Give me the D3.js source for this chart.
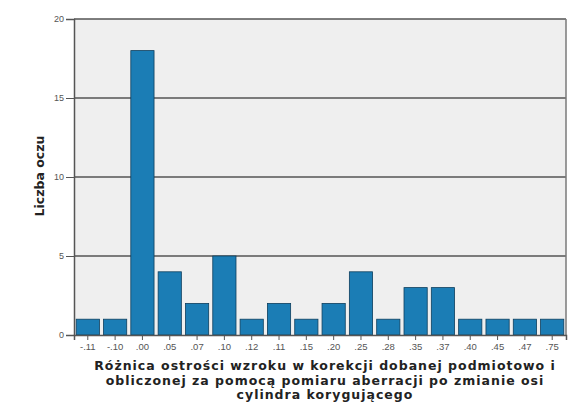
<!DOCTYPE html>
<html>
<head>
<meta charset="utf-8">
<script src="https://cdn.jsdelivr.net/npm/d3@7"></script>
<style>
  html, body { margin: 0; padding: 0; background: #ffffff; }
  svg { display: block; }
</style>
</head>
<body>
<svg id="chart" width="579" height="405"></svg>
<script>
// Differences in visual acuity (categories) and number of eyes per category
const categories = ["-.11", "-.10", ".00", ".05", ".07", ".10", ".12", ".11", ".15", ".20", ".25", ".28", ".35", ".37", ".40", ".45", ".47", ".75"];
const counts = [1, 1, 18, 4, 2, 5, 1, 2, 1, 2, 4, 1, 3, 3, 1, 1, 1, 1];
const yTicks = [0, 5, 10, 15, 20];
const yLabel = "Liczba oczu";
const xLabelLines = [
  "Różnica ostrości wzroku w korekcji dobanej podmiotowo i",
  "obliczonej za pomocą pomiaru aberracji po zmianie osi",
  "cylindra korygującego"
];

const svg = d3.select("#chart");
const plot = { left: 74, right: 566, top: 19, bottom: 335 };

const x = d3.scaleBand()
  .domain(categories.map((c, i) => i))
  .range([plot.left, plot.right])
  .paddingInner(0.15)
  .paddingOuter(0.08);

const y = d3.scaleLinear()
  .domain([0, 20])
  .range([plot.bottom, plot.top]);

// plot background
svg.append("rect")
  .attr("x", plot.left).attr("y", plot.top)
  .attr("width", plot.right - plot.left)
  .attr("height", plot.bottom - plot.top)
  .attr("fill", "#efefef");

// horizontal grid lines
svg.append("g")
  .selectAll("line")
  .data(yTicks.filter(t => t > 0))
  .join("line")
  .attr("x1", plot.left).attr("x2", plot.right)
  .attr("y1", d => y(d)).attr("y2", d => y(d))
  .attr("stroke", "#555")
  .attr("stroke-width", 1.6);

// bars
svg.append("g")
  .selectAll("rect")
  .data(counts)
  .join("rect")
  .attr("x", (d, i) => x(i))
  .attr("y", d => y(d))
  .attr("width", x.bandwidth())
  .attr("height", d => y(0) - y(d))
  .attr("fill", "#1b7db5")
  .attr("stroke", "#0e3f5e")
  .attr("stroke-width", 0.8);

// plot frame (right border)
svg.append("line")
  .attr("x1", plot.right).attr("x2", plot.right)
  .attr("y1", plot.top).attr("y2", plot.bottom)
  .attr("stroke", "#7a7a7a").attr("stroke-width", 1.5);

// y axis
const yAxis = d3.axisLeft(y).tickValues(yTicks).tickSize(8).tickPadding(2).tickFormat(d3.format("d"));
const gy = svg.append("g")
  .attr("transform", `translate(${plot.left},0)`)
  .call(yAxis);
gy.select(".domain").attr("stroke", "#555").attr("stroke-width", 1.5);
gy.selectAll(".tick line").attr("stroke", "#555");
gy.selectAll(".tick text")
  .attr("font-family", "Liberation Sans, Arial, sans-serif")
  .attr("font-size", 9)
  .attr("fill", "#555");

// x axis
const xAxis = d3.axisBottom(x).tickSize(5).tickPadding(3).tickFormat(i => categories[i]);
const gx = svg.append("g")
  .attr("transform", `translate(0,${plot.bottom})`)
  .call(xAxis);
gx.select(".domain").attr("stroke", "#555").attr("stroke-width", 1.5);
gx.selectAll(".tick line").attr("stroke", "#555");
gx.selectAll(".tick text")
  .attr("font-family", "Liberation Sans, Arial, sans-serif")
  .attr("font-size", 9.5)
  .attr("fill", "#555");

// y axis title
svg.append("text")
  .attr("transform", `translate(44,176) rotate(-90)`)
  .attr("text-anchor", "middle")
  .attr("font-family", "DejaVu Sans, sans-serif")
  .attr("font-weight", "bold")
  .attr("font-size", 12.5)
  .attr("fill", "#222")
  .text(yLabel);

// x axis title
svg.append("text")
  .attr("text-anchor", "middle")
  .attr("font-family", "DejaVu Sans, sans-serif")
  .attr("font-weight", "bold")
  .attr("font-size", 12.5)
  .attr("letter-spacing", 1)
  .attr("fill", "#222")
  .selectAll("tspan")
  .data(xLabelLines)
  .join("tspan")
  .attr("x", 325)
  .attr("y", (d, i) => 370 + i * 14.5)
  .text(d => d);
</script>
</body>
</html>
